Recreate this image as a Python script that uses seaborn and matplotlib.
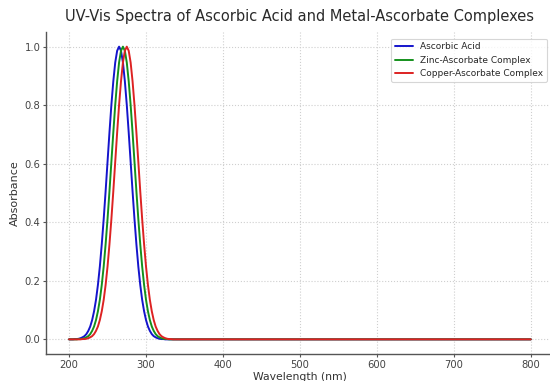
import numpy as np
import pandas as pd
import seaborn as sns
import matplotlib
matplotlib.use("Agg")
import matplotlib.pyplot as plt

wavelength = [200, 202.5, 205, 207.5, 210, 212.5, 215, 217.5, 220, 222.5, 225, 227.5,
              230, 232.5, 235, 237.5, 240, 242.5, 245, 247.5, 250, 252.5, 255, 257.5,
              260, 262.5, 265, 267.5, 270, 272.5, 275, 277.5, 280, 282.5, 285, 287.5,
              290, 292.5, 295, 297.5, 300, 302.5, 305, 307.5, 310, 312.5, 315, 317.5,
              320, 322.5, 325, 327.5, 330, 332.5, 335, 337.5, 340,
              350, 400, 450, 500, 550, 600, 650, 700, 750, 800]

ascorbic = [0.0, 0.0, 0.0,
            0.001, 0.001, 0.002, 0.004, 0.007, 0.011, 0.018, 0.029, 0.044, 0.066, 0.096,
            0.135, 0.186, 0.249, 0.325, 0.411, 0.506, 0.607, 0.707, 0.801, 0.882, 0.946,
            0.986, 1.0,
            0.986, 0.946, 0.882, 0.801, 0.707, 0.607, 0.506, 0.411, 0.325, 0.249, 0.186,
            0.135, 0.096, 0.066, 0.044, 0.029, 0.018, 0.011, 0.007, 0.004, 0.002, 0.001,
            0.001,
            0.0, 0.0, 0.0, 0.0, 0.0, 0.0, 0.0,
            0.0, 0.0, 0.0, 0.0, 0.0, 0.0, 0.0, 0.0, 0.0, 0.0]

zinc = [0.0, 0.0, 0.0, 0.0, 0.0,
        0.001, 0.001, 0.002, 0.004, 0.007, 0.011, 0.018, 0.029, 0.044, 0.066, 0.096,
        0.135, 0.186, 0.249, 0.325, 0.411, 0.506, 0.607, 0.707, 0.801, 0.882, 0.946,
        0.986, 1.0,
        0.986, 0.946, 0.882, 0.801, 0.707, 0.607, 0.506, 0.411, 0.325, 0.249, 0.186,
        0.135, 0.096, 0.066, 0.044, 0.029, 0.018, 0.011, 0.007, 0.004, 0.002, 0.001,
        0.001,
        0.0, 0.0, 0.0, 0.0, 0.0,
        0.0, 0.0, 0.0, 0.0, 0.0, 0.0, 0.0, 0.0, 0.0, 0.0]

copper = [0.0, 0.0, 0.0, 0.0, 0.0, 0.0, 0.0,
          0.001, 0.001, 0.002, 0.004, 0.007, 0.011, 0.018, 0.029, 0.044, 0.066, 0.096,
          0.135, 0.186, 0.249, 0.325, 0.411, 0.506, 0.607, 0.707, 0.801, 0.882, 0.946,
          0.986, 1.0,
          0.986, 0.946, 0.882, 0.801, 0.707, 0.607, 0.506, 0.411, 0.325, 0.249, 0.186,
          0.135, 0.096, 0.066, 0.044, 0.029, 0.018, 0.011, 0.007, 0.004, 0.002, 0.001,
          0.001,
          0.0, 0.0, 0.0,
          0.0, 0.0, 0.0, 0.0, 0.0, 0.0, 0.0, 0.0, 0.0, 0.0]

series_names = ["Ascorbic Acid", "Zinc-Ascorbate Complex", "Copper-Ascorbate Complex"]
series_colors = ["#1414cc", "#14901c", "#dd2222"]

df = pd.concat([
    pd.DataFrame({"Wavelength": wavelength, "Absorbance": vals, "Sample": name})
    for name, vals in zip(series_names, [ascorbic, zinc, copper])
])

sns.set_style("whitegrid", {"grid.linestyle": ":", "grid.color": "#cfcfcf"})
plt.rcParams['font.family'] = ['DejaVu Sans']

fig = plt.figure(figsize=(5.5, 3.81), dpi=100)
ax = fig.add_axes([0.0836, 0.0709, 1.007 - 0.0836, 0.916 - 0.0709])

sns.lineplot(data=df, x="Wavelength", y="Absorbance", hue="Sample",
             palette=dict(zip(series_names, series_colors)), linewidth=1.4,
             ax=ax, sort=True, estimator=None)

ax.set_xlim(170, 830)
ax.set_ylim(-0.05, 1.05)
ax.set_xticks([200, 300, 400, 500, 600, 700, 800])
ax.set_yticks([0.0, 0.2, 0.4, 0.6, 0.8, 1.0])
ax.set_yticklabels(["0.0", "0.2", "0.4", "0.6", "0.8", "1.0"])
ax.tick_params(axis="both", labelsize=7.2, colors="#555555", labelcolor="#444444",
               length=2.5, width=0.8, direction="out", bottom=True, left=True, pad=1.5)
ax.set_xlabel("Wavelength (nm)", fontsize=7.8, color="#333333", labelpad=1.5)
ax.set_ylabel("Absorbance", fontsize=8, color="#333333", labelpad=3)
ax.set_title("UV-Vis Spectra of Ascorbic Acid and Metal-Ascorbate Complexes",
             fontsize=10.5, color="#2a2a2a", pad=8)

for s in ["top", "right"]:
    ax.spines[s].set_visible(False)
for s in ["left", "bottom"]:
    ax.spines[s].set_color("#555555")
    ax.spines[s].set_linewidth(1.0)

leg = ax.legend(loc="upper right", fontsize=6.5, frameon=True, title=None,
                bbox_to_anchor=(0.99, 0.985), borderaxespad=0.2)
leg.get_frame().set_edgecolor("#cccccc")
leg.get_frame().set_linewidth(0.8)

fig.savefig("out.png", dpi=100)
